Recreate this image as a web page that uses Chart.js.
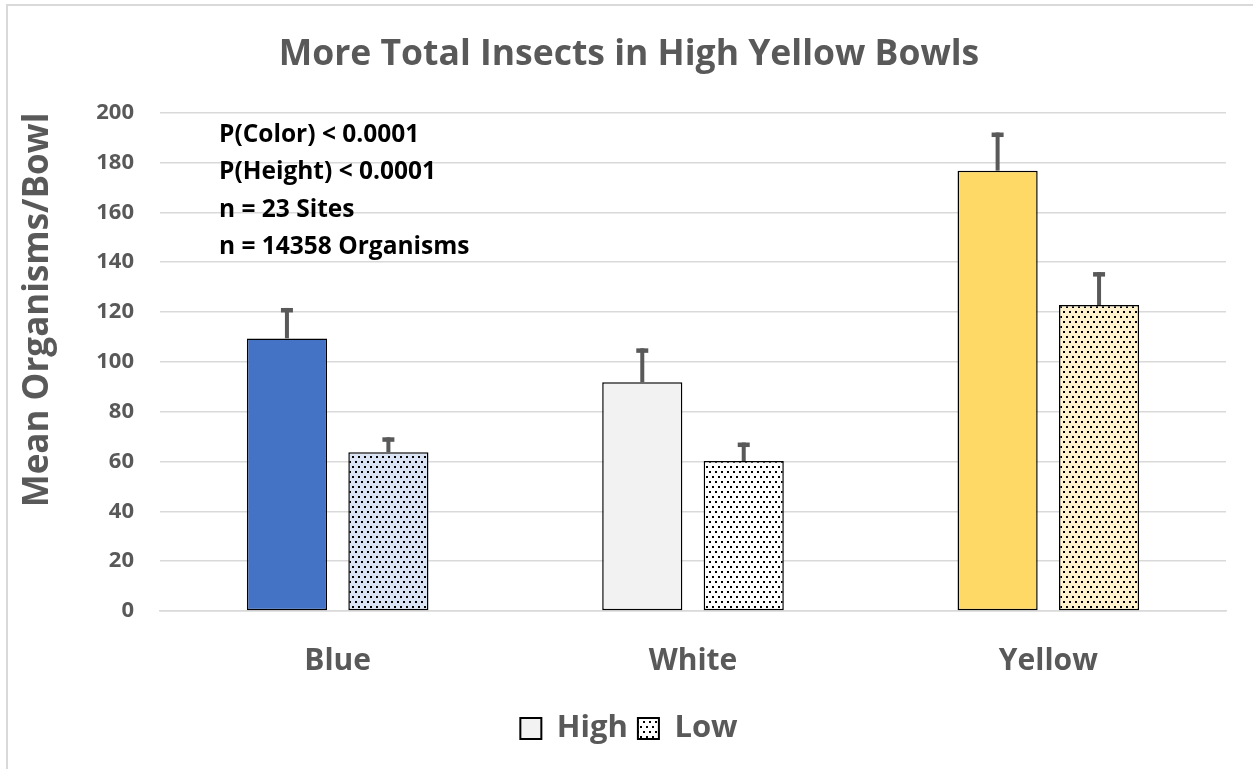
<!DOCTYPE html>
<html>
<head>
<meta charset="utf-8">
<script src="https://cdn.jsdelivr.net/npm/chart.js@4.4.1/dist/chart.umd.min.js"></script>
<style>
  html, body { margin: 0; padding: 0; background: #fff; }
  #wrap { position: relative; width: 1253px; height: 769px; }
</style>
</head>
<body>
<div id="wrap"><canvas id="bowlChart" width="1253" height="769"></canvas></div>
<script>
'use strict';

// --- data ---
const categories = ['Blue', 'White', 'Yellow'];
const seriesNames = ['High', 'Low'];
const highMeans = [109.4, 91.8, 176.7];
const lowMeans  = [63.7, 60.2, 122.8];
const highErr   = [12.2, 13.6, 15.3];
const lowErr    = [6.0, 7.4, 13.2];
const yTickValues = [0, 20, 40, 60, 80, 100, 120, 140, 160, 180, 200];
const statNotes = ['P(Color) < 0.0001', 'P(Height) < 0.0001', 'n = 23 Sites', 'n = 14358 Organisms'];

const GREY = '#595959';
const FONT = '"Open Sans", sans-serif';

// dotted fill like the Excel pattern
function dots(bg) {
  const c = document.createElement('canvas');
  c.width = 6; c.height = 10;
  const g = c.getContext('2d');
  g.fillStyle = bg;
  g.fillRect(0, 0, 6, 10);
  g.fillStyle = '#000';
  g.fillRect(1, 1, 2, 2);
  g.fillRect(4, 6, 2, 2);
  return g.createPattern(c, 'repeat');
}

const highFill = ['#4472c4', '#f2f2f2', '#ffd966'];
const lowFill  = [dots('#dae3f3'), dots('#ffffff'), dots('#fff2cc')];
const legendFill = ['#f2f2f2', dots('#ffffff')];

// error bars (upper only) + frame + notes
const extras = {
  id: 'extras',
  beforeDraw(chart) {
    const ctx = chart.ctx;
    ctx.save();
    ctx.strokeStyle = '#d9d9d9';
    ctx.lineWidth = 2;
    ctx.strokeRect(7, 5, 1260, 800);
    ctx.restore();
  },
  afterDatasetsDraw(chart) {
    const ctx = chart.ctx;
    const y = chart.scales.y;
    const errs = [highErr, lowErr];
    ctx.save();
    ctx.fillStyle = GREY;
    chart.data.datasets.forEach((ds, di) => {
      chart.getDatasetMeta(di).data.forEach((bar, i) => {
        const top = y.getPixelForValue(ds.data[i] + errs[di][i]);
        ctx.fillRect(bar.x - 2, top, 4, bar.y - top);
        ctx.fillRect(bar.x - 6, top, 12, 4.5);
      });
    });
    ctx.fillStyle = '#000';
    ctx.font = 'bold 24.5px ' + FONT;
    ctx.textBaseline = 'middle';
    statNotes.forEach((t, i) => ctx.fillText(t, 219, 135 + i * 37.5));
    ctx.restore();
  },
};

new Chart(document.getElementById('bowlChart').getContext('2d'), {
  type: 'bar',
  data: {
    labels: categories,
    datasets: [
      {
        label: seriesNames[0],
        data: highMeans,
        backgroundColor: highFill,
        borderColor: '#000',
        borderWidth: 1.5,
        borderSkipped: false,
      },
      {
        label: seriesNames[1],
        data: lowMeans,
        backgroundColor: lowFill,
        borderColor: '#000',
        borderWidth: 1.5,
        borderSkipped: false,
      },
    ],
  },
  options: {
    responsive: false,
    animation: false,
    categoryPercentage: 0.571,
    barPercentage: 0.79,
    layout: { padding: { left: 32, right: 27, top: 0, bottom: 15 } },
    plugins: {
      title: {
        display: true,
        text: 'More Total Insects in High Yellow Bowls',
        color: GREY,
        font: { family: FONT, size: 35.5, weight: 'bold' },
        padding: { top: 34, bottom: 36 },
      },
      legend: {
        position: 'bottom',
        labels: {
          color: GREY,
          font: { family: FONT, size: 31, weight: 'bold' },
          boxWidth: 21,
          boxHeight: 21,
          padding: 10,
          generateLabels: () => seriesNames.map((n, i) => ({
            text: n,
            fillStyle: legendFill[i],
            strokeStyle: '#000',
            lineWidth: 2,
            fontColor: GREY,
            datasetIndex: i,
          })),
        },
      },
      tooltip: { enabled: false },
    },
    scales: {
      x: {
        grid: { display: false },
        border: { color: '#d9d9d9', width: 1.5 },
        ticks: { color: GREY, font: { family: FONT, size: 30, weight: 'bold' }, padding: 24 },
      },
      y: {
        min: 0,
        max: 200,
        afterBuildTicks: s => { s.ticks = yTickValues.map(v => ({ value: v })); },
        afterFit: s => { s.width = 128; },
        grid: { color: '#d9d9d9', lineWidth: 1.5, drawTicks: false },
        border: { display: false },
        ticks: { color: GREY, font: { family: FONT, size: 22, weight: 'bold' }, padding: 26 },
        title: {
          display: true,
          align: 'end',
          text: 'Mean Organisms/Bowl',
          color: GREY,
          font: { family: FONT, size: 35, weight: 'bold' },
          padding: { top: -15, bottom: 10 },
        },
      },
    },
  },
  plugins: [extras],
});
</script>
</body>
</html>
